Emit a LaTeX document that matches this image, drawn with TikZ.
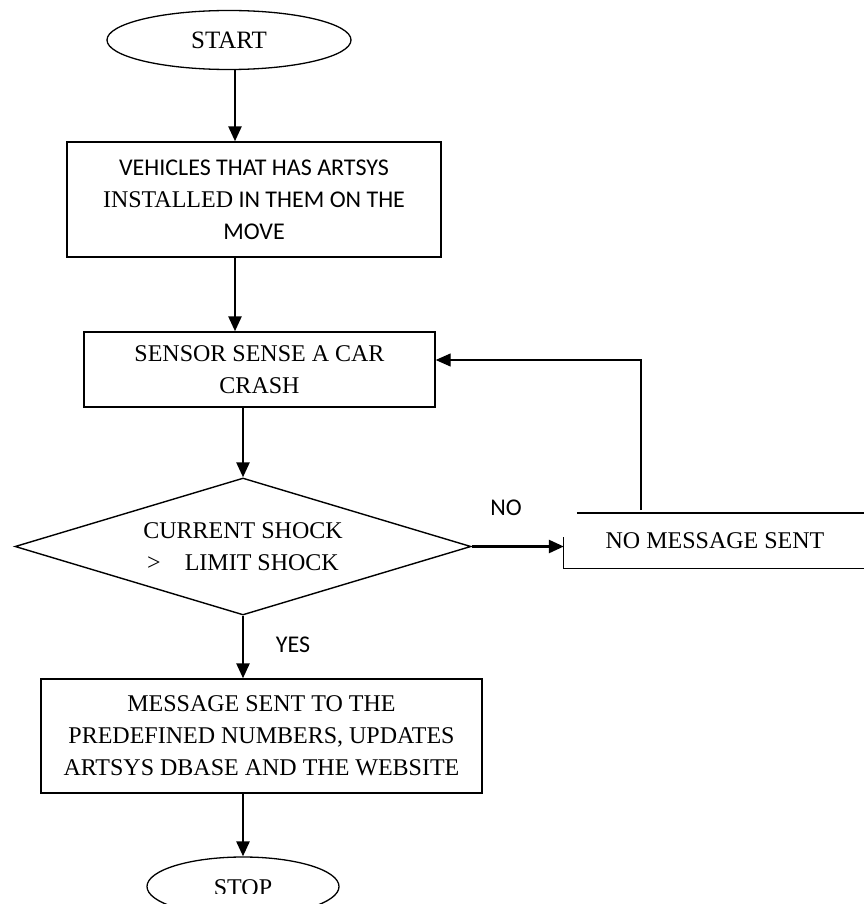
\documentclass[tikz,border=0pt]{standalone}
\usepackage{fontspec}
\setmainfont{Liberation Serif}
\newfontfamily\calibri{Carlito}
\usetikzlibrary{shapes.geometric,arrows.meta}

\begin{document}
\begin{tikzpicture}[x=1pt,y=-1pt,
        font=\fontsize{24}{32}\selectfont,
        terminal/.style={draw, ellipse, line width=1.3pt, minimum width=244pt, minimum height=59pt, inner sep=0pt},
        process/.style={draw, rectangle, line width=1.4pt, align=center, inner sep=0pt},
        decision/.style={draw, diamond, aspect=3.33, line width=1.4pt, minimum width=456pt, minimum height=137pt, align=center, inner sep=0pt},
        flow/.style={-{Triangle[length=15pt,width=13pt]}, line width=2.6pt},
        answer/.style={font=\calibri\fontsize{24}{32}\selectfont}]
        \useasboundingbox (0,0) rectangle (863,904);
        \node[terminal, font=\fontsize{25}{32}\selectfont] (start) at (229,40) {START};
        \node[process, minimum width=374pt, minimum height=115pt, font=\calibri\fontsize{24}{32}\selectfont] (vehicles) at (254,199.5) {VEHICLES THAT HAS ARTSYS\\{\rmfamily INSTALLED} IN THEM ON THE\\MOVE};
        \node[process, minimum width=351pt, minimum height=75pt] (sensor) at (259.5,369.5) {SENSOR SENSE A CAR\\CRASH};
        \node[decision] (shock) at (243,546.5) {CURRENT SHOCK\\>\hspace{24pt}LIMIT SHOCK};
        \node[minimum width=302pt, minimum height=55pt, inner sep=0pt] (nomsg) at (715,540.5) {NO MESSAGE SENT};
        \node[process, minimum width=441pt, minimum height=114pt] (msg) at (261.5,736) {MESSAGE SENT TO THE\\PREDEFINED NUMBERS, UPDATES\\ARTSYS DBASE AND THE WEBSITE};
        \node[terminal, minimum width=192pt] (stop) at (243,886.5) {};
        \begin{scope}
            \clip (0,0) rectangle (863,893);
            \node (stoplabel) at (243,888) {STOP};
        \end{scope}
        \node[answer] (no) at (506,508) {NO};
        \node[answer] (yes) at (293,645) {YES};
        % open box round the NO branch
        \draw[line width=1.6pt] ([xshift=13pt]nomsg.north west) -- (nomsg.north east);
        \draw[line width=1.3pt] ([yshift=3.5pt]nomsg.west) -- (nomsg.south west) -- (nomsg.south east);
        \draw[flow] ([xshift=6pt]start.south) -- ([xshift=-19pt]vehicles.north);
        \draw[flow] ([xshift=-19pt]vehicles.south) -- ([xshift=-24.5pt]sensor.north);
        \draw[flow] ([xshift=-16.5pt]sensor.south) -- (shock.north);
        \draw[flow] (shock.east) -- (shock.east -| nomsg.west);
        \draw[flow] (shock.south) -- (shock.south |- msg.north);
        \draw[flow] (msg.south -| stop.north) -- (stop.north);
        \coordinate (back) at (641,510);
        \draw[flow, line width=1.2pt] (back) |- ([yshift=9.5pt]sensor.east);
\end{tikzpicture}
\end{document}
